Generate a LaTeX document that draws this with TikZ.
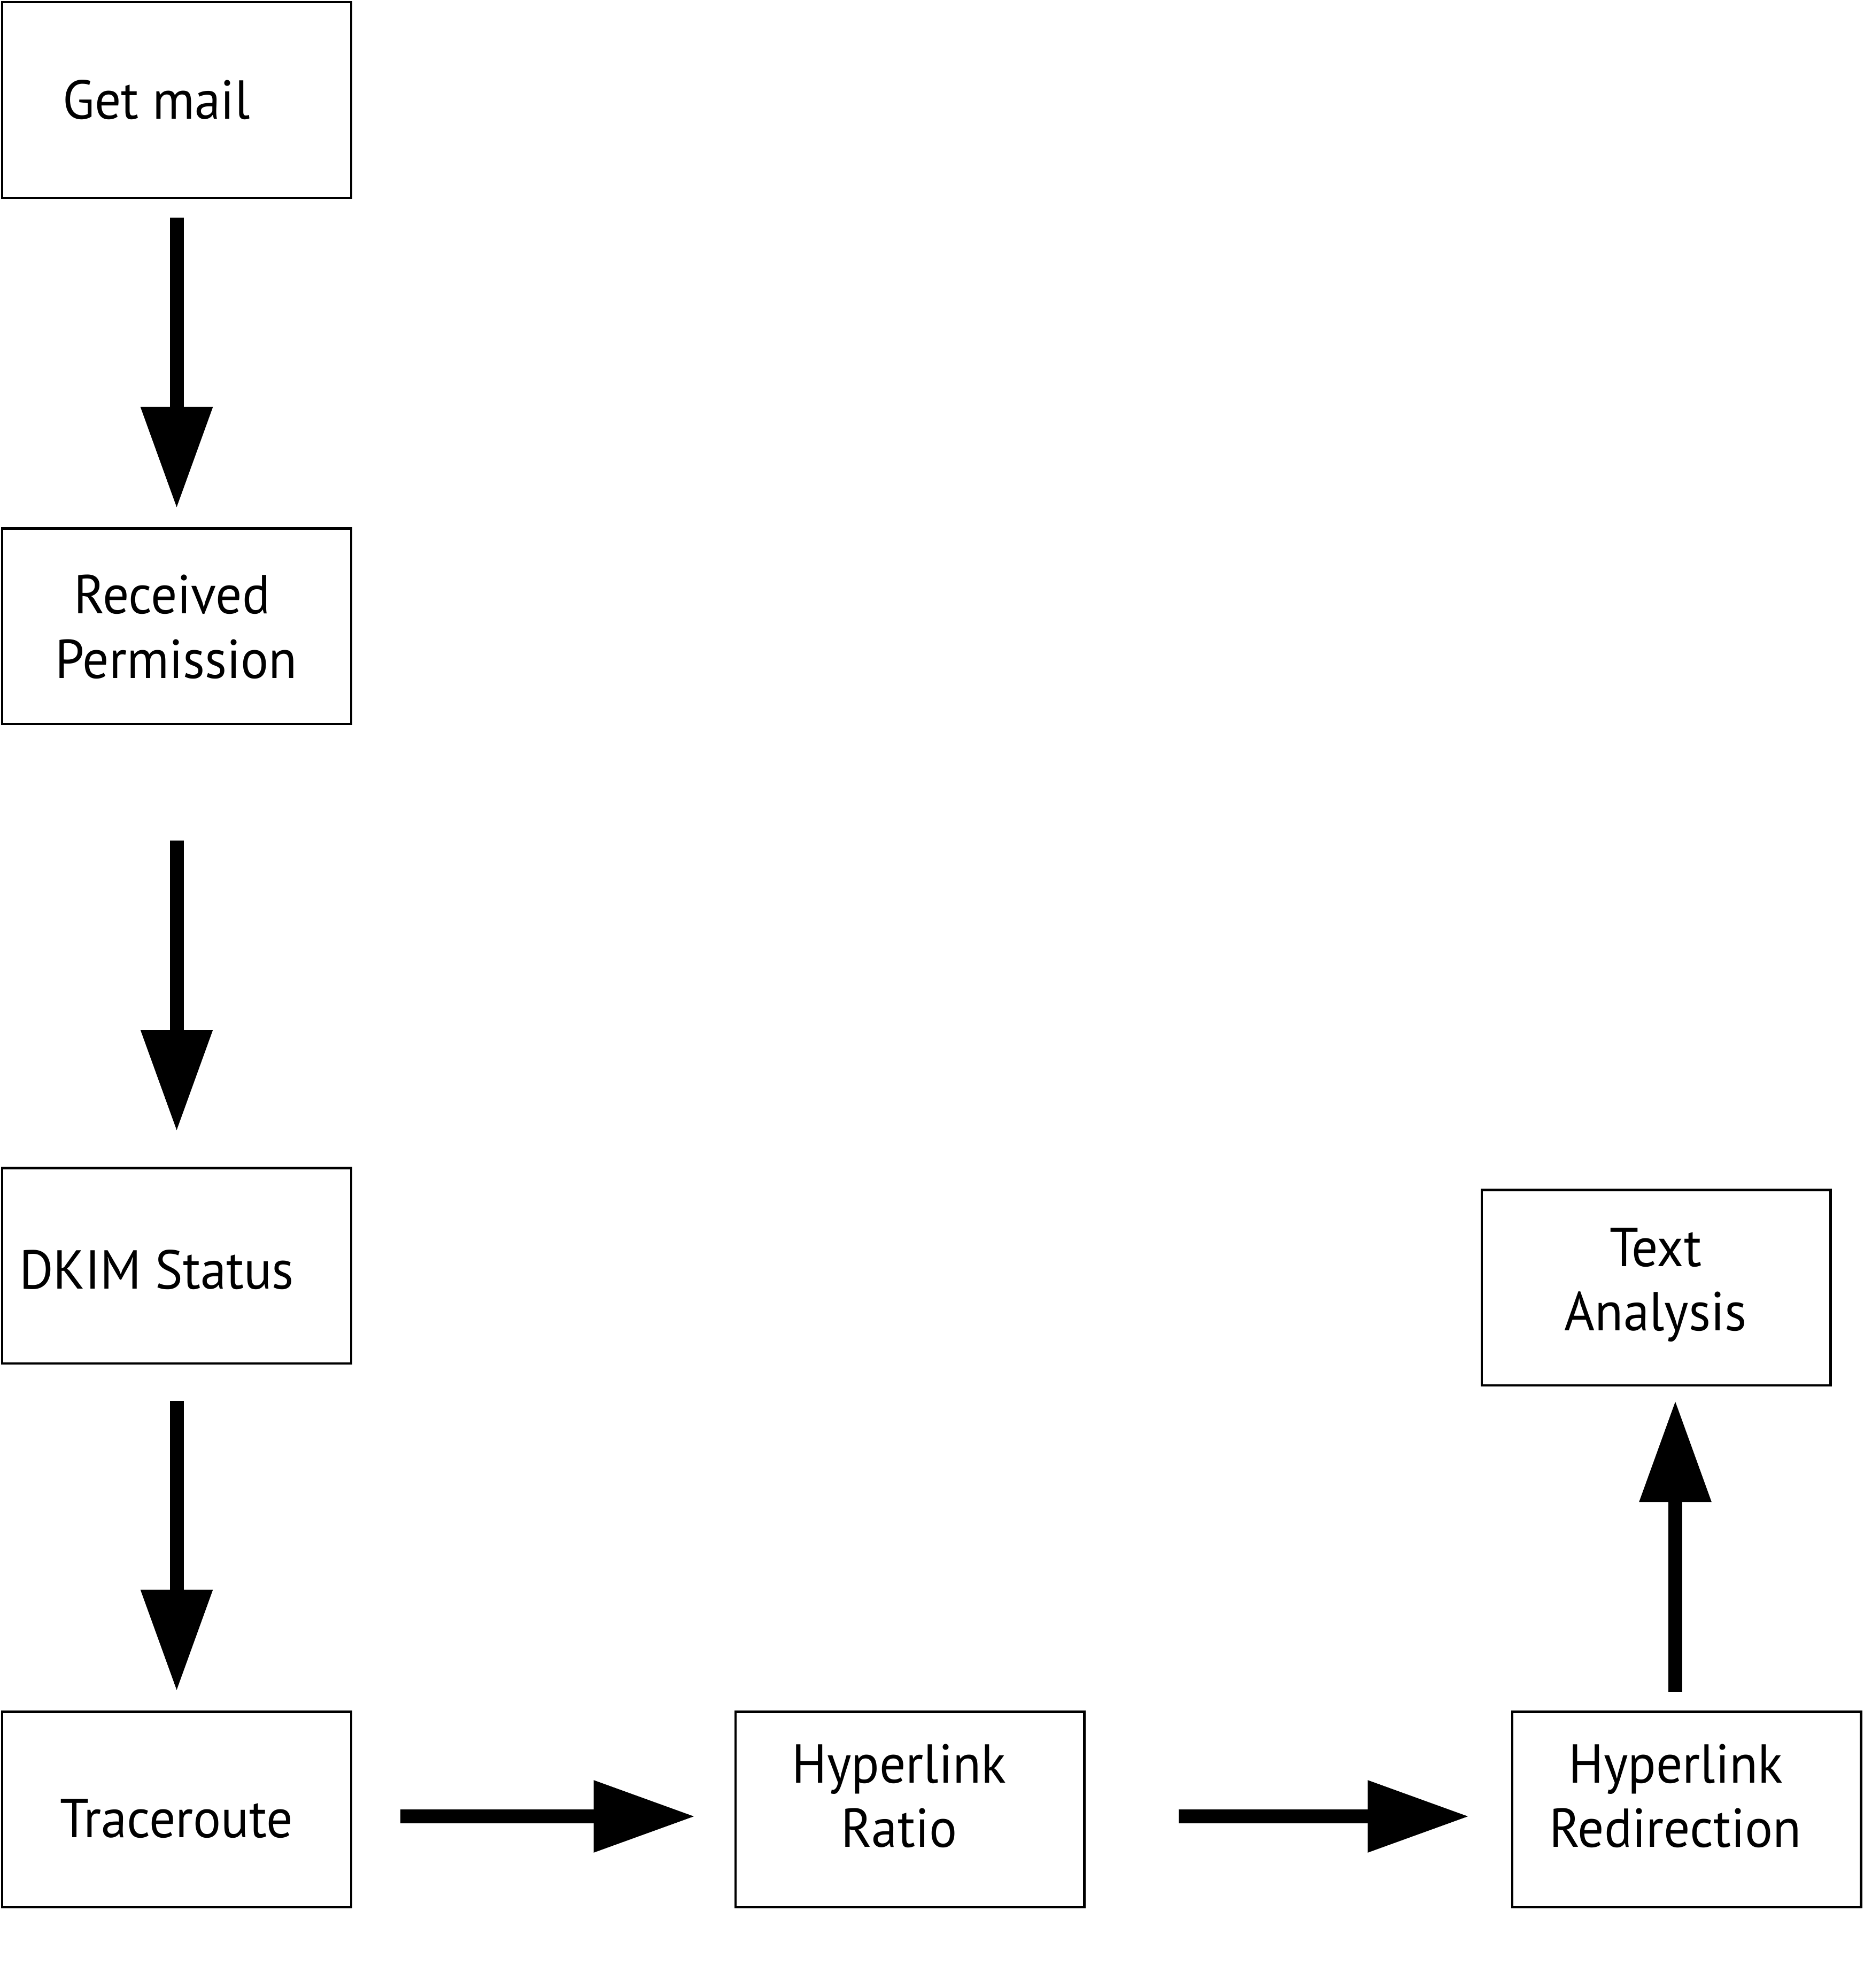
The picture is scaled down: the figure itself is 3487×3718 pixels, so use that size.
\documentclass[tikz,border=0pt]{standalone}
\usepackage{fontspec}
\setmainfont[FakeStretch=0.95]{PT Sans}
\usetikzlibrary{arrows.meta}
\begin{document}
\begin{tikzpicture}[x=0.2pt,y=-0.2pt,
  box/.style={draw=black,line width=0.9pt,rectangle,minimum width=130.5pt,minimum height=73.1pt,inner sep=0pt},
  txt/.style={anchor=base,inner sep=0pt,font=\fontsize{20.5pt}{24pt}\selectfont},
  bigarrow/.style={line width=5.2pt,-{Triangle[length=38pt,width=25.6pt]}}]
\useasboundingbox (0,0) rectangle (3487,3718);
% boxes
\node[box] (gm) at (330.5,187) {};
\node[box] (rp) at (330.5,1171) {};
\node[box] (dk) at (330.5,2367) {};
\node[box] (tr) at (330.5,3384) {};
\node[box] (hr) at (1702,3384) {};
\node[box] (hd) at (3155,3384) {};
\node[box] (ta) at (3098,2408) {};
% texts
\node[txt] (gmt) at (292.5,223) {Get mail};
\node[txt] (rpt1) at (322,1147) {Received};
\node[txt] (rpt2) at (330,1268) {Permission};
\node[txt] (dkt) at (293,2410) {DKIM Status};
\node[txt] (trt) at (330,3436) {Traceroute};
\node[txt] (hrt1) at (1682,3334) {Hyperlink};
\node[txt] (hrt2) at (1682,3454) {Ratio};
\node[txt] (hdt1) at (3135,3334) {Hyperlink};
\node[txt] (hdt2) at (3134,3454) {Redirection};
\node[txt] (tat1) at (3097,2368) {Text};
\node[txt] (tat2) at (3097,2488) {Analysis};
% arrows
\draw[bigarrow,shorten <=7pt,shorten >=7pt] (gm.south) -- (rp.north);
\draw[bigarrow,shorten <=43.2pt,shorten >=13.2pt] (rp.south) -- (dk.north);
\draw[bigarrow,shorten <=13.6pt,shorten >=7.2pt] (dk.south) -- (tr.north);
\draw[bigarrow,shorten <=18pt,shorten >=14.6pt] ([yshift=-2.6pt]tr.east) -- ([yshift=-2.6pt]hr.west);
\draw[bigarrow,shorten <=34.8pt,shorten >=15.6pt] ([yshift=-2.6pt]hr.east) -- ([yshift=-2.6pt]hd.west);
\draw[bigarrow,shorten <=7pt,shorten >=5.2pt] ([xshift=-4.2pt]hd.north) -- ([xshift=-4.2pt]hd.north |- ta.south);
\end{tikzpicture}
\end{document}
